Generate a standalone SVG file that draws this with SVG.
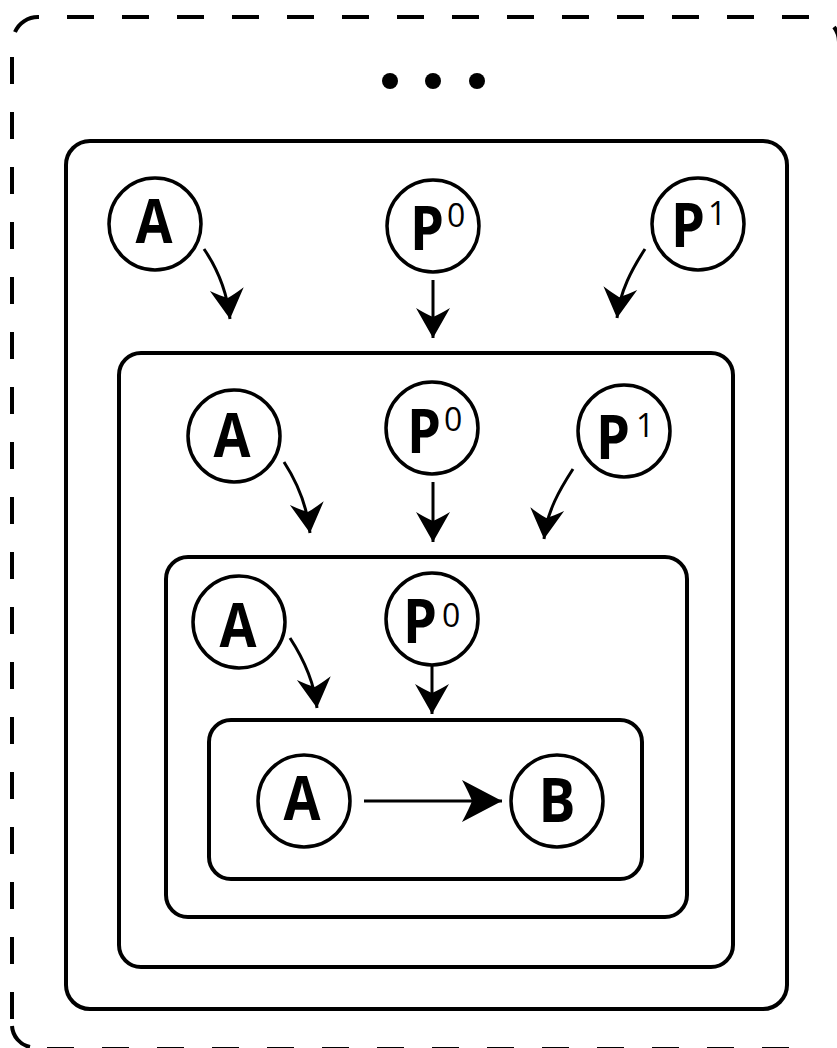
<svg xmlns="http://www.w3.org/2000/svg" width="837" height="1048" viewBox="0 0 837 1048">
<style>
.frame{fill:none;stroke:#000;stroke-width:4}
.dash{fill:none;stroke:#000;stroke-width:4;stroke-dasharray:27 28}
.node{fill:#fff;stroke:#000;stroke-width:3.5}
.lbl{font-family:"Open Sans","Liberation Sans",sans-serif;font-weight:bold;font-size:60px;fill:#000}
.sup{font-family:"Open Sans","Liberation Sans",sans-serif;font-weight:normal;font-size:32px;fill:#000}
.edge{fill:none;stroke:#000;stroke-width:3}
</style>
<defs>
<marker id="ah" markerUnits="userSpaceOnUse" viewBox="-32 -19 34 38" refX="0" refY="0" markerWidth="34" markerHeight="38" orient="auto">
<path d="M0,0 L-30,-17 Q-24,-7 -21,0 Q-24,7 -30,17 Z" fill="#000"/>
</marker>
<marker id="ahBig" markerUnits="userSpaceOnUse" viewBox="-42 -23 44 46" refX="0" refY="0" markerWidth="44" markerHeight="46" orient="auto">
<path d="M0,0 L-40,-21 Q-33,-8 -30,0 Q-33,8 -40,21 Z" fill="#000"/>
</marker>
</defs>
<rect width="837" height="1048" fill="#fff"/>
<g id="outer-frame">
<path class="dash" d="M37,17 H814 A25,25 0 0 1 839,42" style="stroke-dashoffset:25"/>
<path class="frame" d="M15,32 A25,25 0 0 1 38,17"/>
<path class="dash" d="M12,42 V1024" style="stroke-dashoffset:-15"/>
<path class="frame" d="M12,1026 A23,23 0 0 0 30,1047"/>
<path class="dash" d="M37,1049 H814" style="stroke-dashoffset:-10"/>
<circle cx="390" cy="81" r="8" fill="#000"/>
<circle cx="433" cy="81" r="8" fill="#000"/>
<circle cx="477" cy="81" r="8" fill="#000"/>
</g>
<g id="box1"><rect class="frame" x="66" y="141" width="721" height="868" rx="24"/></g>
<g id="box2"><rect class="frame" x="119" y="353" width="614" height="614" rx="22"/></g>
<g id="box3"><rect class="frame" x="166" y="557" width="521" height="360" rx="22"/></g>
<g id="box4"><rect class="frame" x="209" y="720" width="433" height="159" rx="22"/></g>
<g id="connectors">
<path class="edge" d="M204,249 C217,268 227,291 230,319" marker-end="url(#ah)"/>
<path class="edge" d="M433,280 V338" marker-end="url(#ah)"/>
<path class="edge" d="M645,249 C632,269 620,291 617,318" marker-end="url(#ah)"/>
<path class="edge" d="M284,462 C297,482 307,505 310,533" marker-end="url(#ah)"/>
<path class="edge" d="M433,482 V542" marker-end="url(#ah)"/>
<path class="edge" d="M573,469 C560,489 547,511 544,539" marker-end="url(#ah)"/>
<path class="edge" d="M290,638 C303,658 314,680 317,708" marker-end="url(#ah)"/>
<path class="edge" d="M432,665 V714" marker-end="url(#ah)"/>
<path class="edge" d="M364,801 H502" marker-end="url(#ahBig)"/>
</g>
<g id="n1-A"><circle class="node" cx="155" cy="224" r="46"/><text class="lbl" x="154" y="243" text-anchor="middle" textLength="37" lengthAdjust="spacingAndGlyphs">A</text></g>
<g id="n1-P0"><circle class="node" cx="433" cy="226" r="46"/><text class="lbl" x="410" y="250"><tspan textLength="34" lengthAdjust="spacingAndGlyphs">P</tspan><tspan class="sup" x="447" y="227">0</tspan></text></g>
<g id="n1-P1"><circle class="node" cx="698" cy="224" r="46"/><text class="lbl" x="671" y="247"><tspan textLength="34" lengthAdjust="spacingAndGlyphs">P</tspan><tspan class="sup" x="708" y="225">1</tspan></text></g>
<g id="n2-A"><circle class="node" cx="234" cy="436" r="46"/><text class="lbl" x="232" y="457" text-anchor="middle" textLength="37" lengthAdjust="spacingAndGlyphs">A</text></g>
<g id="n2-P0"><circle class="node" cx="432" cy="428" r="46"/><text class="lbl" x="407" y="453"><tspan textLength="34" lengthAdjust="spacingAndGlyphs">P</tspan><tspan class="sup" x="444" y="431">0</tspan></text></g>
<g id="n2-P1"><circle class="node" cx="624" cy="431" r="46"/><text class="lbl" x="596" y="459"><tspan textLength="34" lengthAdjust="spacingAndGlyphs">P</tspan><tspan class="sup" x="636" y="437">1</tspan></text></g>
<g id="n3-A"><circle class="node" cx="239" cy="622" r="46"/><text class="lbl" x="238" y="647" text-anchor="middle" textLength="37" lengthAdjust="spacingAndGlyphs">A</text></g>
<g id="n3-P0"><circle class="node" cx="432" cy="619" r="46"/><text class="lbl" x="403" y="643"><tspan textLength="34" lengthAdjust="spacingAndGlyphs">P</tspan><tspan class="sup" x="442" y="627" font-weight="bold" font-size="28">0</tspan></text></g>
<g id="n4-A"><circle class="node" cx="304" cy="801" r="46"/><text class="lbl" x="302" y="820" text-anchor="middle" textLength="37" lengthAdjust="spacingAndGlyphs">A</text></g>
<g id="n4-B"><circle class="node" cx="557" cy="801" r="46"/><text class="lbl" x="557" y="822" text-anchor="middle" textLength="37" lengthAdjust="spacingAndGlyphs">B</text></g>
</svg>
